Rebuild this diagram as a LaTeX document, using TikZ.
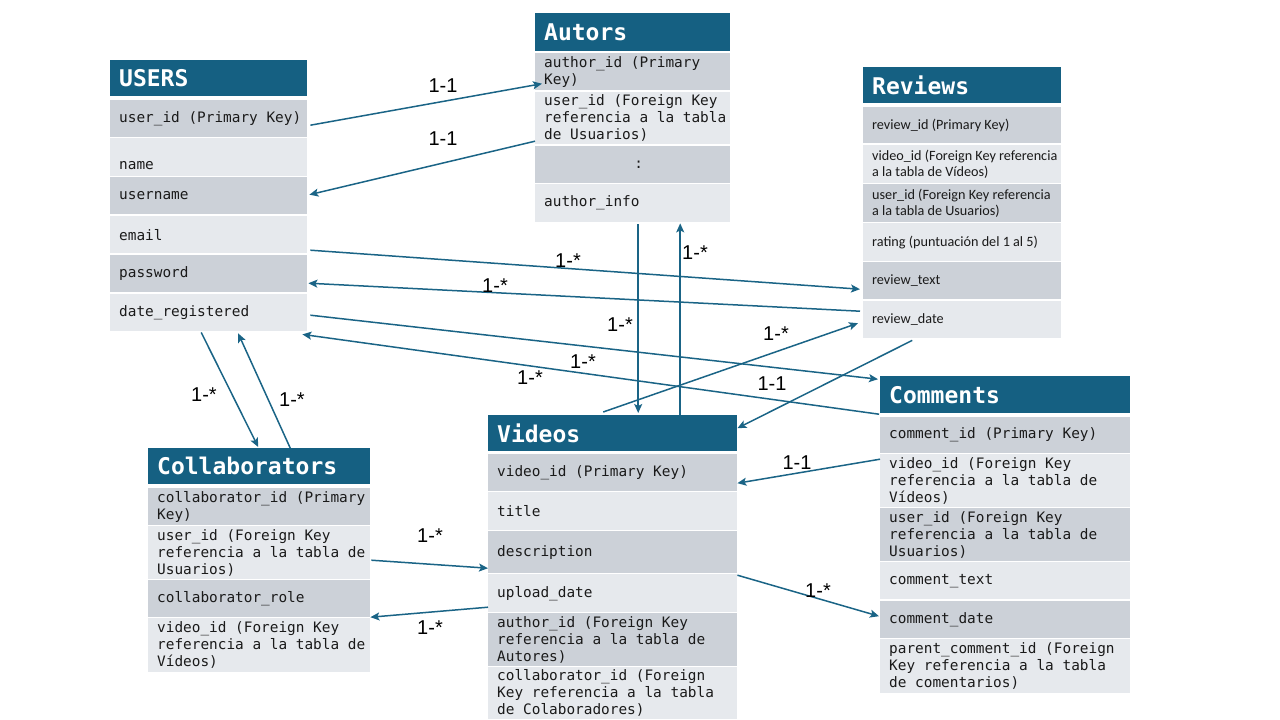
\documentclass[tikz,border=0pt]{standalone}
\usepackage{fontspec}
\setmainfont{Liberation Sans}
\newfontfamily\monof{DejaVu Sans Mono}
\newfontfamily\revf{Carlito}
\newfontfamily\lblf{Liberation Sans}
\usetikzlibrary{arrows.meta}
\definecolor{hdrc}{HTML}{156082}
\definecolor{rowd}{HTML}{CCD1D8}
\definecolor{rowl}{HTML}{E6E9ED}
\definecolor{linec}{HTML}{1A6486}
\definecolor{txtc}{HTML}{1A1A1A}
\tikzset{
  hdrbox/.style={fill=hdrc, draw=none, inner sep=0pt},
  rowbox/.style={draw=none, inner sep=0pt},
  hdrtext/.style={font=\monof\bfseries\fontsize{23}{27}\selectfont, text=white, inner sep=0pt},
  rowtext/.style={font=\monof\fontsize{14.4}{17}\selectfont, text=txtc, align=left, inner sep=0pt},
  revtext/.style={font=\revf\fontsize{14.2}{16}\selectfont, text=txtc, align=left, inner sep=0pt},
  conn/.style={draw=linec, line width=1.5pt, -{Stealth[length=9pt,width=8pt,inset=2pt]}},
  lbl/.style={font=\lblf\fontsize{20}{24}\selectfont, text=black, inner sep=0pt}
}
% name, x, y, w, h, title
\newcommand\etab[6]{%
  \node[hdrbox, minimum width=#4pt, minimum height=#5pt, anchor=north west] (#1) at (#2,#3) {};
  \node[hdrtext, anchor=west] (#1t) at ([xshift=9pt]#1.west) {#6};}
% [textstyle] name, x, y, w, h, fill, text
\newcommand\erow[8][rowtext]{%
  \node[rowbox, fill=#7, minimum width=#5pt, minimum height=#6pt, anchor=north west] (#2) at (#3,#4) {};
  \node[#1, anchor=west] (#2t) at ([xshift=9pt]#2.west) {#8};}
\begin{document}
\begin{tikzpicture}[x=1pt,y=-1pt]
\useasboundingbox (0,0) rectangle (1280,720);

% USERS
\etab{uh}{110}{60}{197}{36}{USERS}
\erow{u1}{110}{100}{197}{37}{rowd}{user\_id (Primary Key)}
\node[rowbox, fill=rowl, minimum width=197pt, minimum height=38pt, anchor=north west] (u2) at (110,138) {};
\node[rowtext, anchor=west] (u2t) at ([shift={(9,8)}]u2.west) {name};
\erow{u3}{110}{177}{197}{37}{rowd}{username}
\erow{u4}{110}{216}{197}{37}{rowl}{email}
\erow{u5}{110}{255}{197}{37}{rowd}{password}
\erow{u6}{110}{294}{197}{37}{rowl}{date\_registered}

% Autors
\etab{ah}{535}{13}{195}{38}{Autors}
\erow{a1}{535}{53}{195}{37}{rowd}{author\_id (Primary\\Key)}
\erow{a2}{535}{92}{195}{52}{rowl}{user\_id (Foreign Key\\referencia a la tabla\\de Usuarios)}
\node[rowbox, fill=rowd, minimum width=195pt, minimum height=37pt, anchor=north west] (a3) at (535,146) {};
\node[rowtext] (a3t) at ([xshift=6pt]a3.center) {:};
\erow{a4}{535}{184}{195}{38}{rowl}{author\_info}

% Reviews
\etab{rh}{863}{67}{198}{36}{Reviews}
\erow[revtext]{r1}{863}{107}{198}{36}{rowd}{review\_id (Primary Key)}
\erow[revtext]{r2}{863}{145}{198}{38}{rowl}{video\_id (Foreign Key referencia\\a la tabla de Vídeos)}
\erow[revtext]{r3}{863}{184}{198}{38}{rowd}{user\_id (Foreign Key referencia\\a la tabla de Usuarios)}
\erow[revtext]{r4}{863}{223}{198}{38}{rowl}{rating (puntuación del 1 al 5)}
\erow[revtext]{r5}{863}{262}{198}{37}{rowd}{review\_text}
\erow[revtext]{r6}{863}{301}{198}{37}{rowl}{review\_date}

% Comments
\etab{ch}{880}{376}{250}{37}{Comments}
\erow{c1}{880}{417}{250}{36}{rowd}{comment\_id (Primary Key)}
\erow{c2}{880}{454}{250}{53}{rowl}{video\_id (Foreign Key\\referencia a la tabla de\\Vídeos)}
\erow{c3}{880}{508}{250}{53}{rowd}{user\_id (Foreign Key\\referencia a la tabla de\\Usuarios)}
\erow{c4}{880}{562}{250}{37}{rowl}{comment\_text}
\erow{c5}{880}{601}{250}{37}{rowd}{comment\_date}
\erow{c6}{880}{639}{250}{54}{rowl}{parent\_comment\_id (Foreign\\Key referencia a la tabla\\de comentarios)}

% Videos
\etab{vh}{488}{415}{249}{36}{Videos}
\erow{v1}{488}{454}{249}{37}{rowd}{video\_id (Primary Key)}
\erow{v2}{488}{492}{249}{38}{rowl}{title}
\erow{v3}{488}{531}{249}{42}{rowd}{description}
\erow{v4}{488}{574}{249}{38}{rowl}{upload\_date}
\erow{v5}{488}{613}{249}{53}{rowd}{author\_id (Foreign Key\\referencia a la tabla de\\Autores)}
\erow{v6}{488}{667}{249}{52}{rowl}{collaborator\_id (Foreign\\Key referencia a la tabla\\de Colaboradores)}

% Collaborators
\etab{kh}{148}{448}{222}{36}{Collaborators}
\erow{k1}{148}{488}{222}{37}{rowd}{collaborator\_id (Primary\\Key)}
\erow{k2}{148}{526}{222}{53}{rowl}{user\_id (Foreign Key\\referencia a la tabla de\\Usuarios)}
\erow{k3}{148}{580}{222}{37}{rowd}{collaborator\_role}
\erow{k4}{148}{618}{222}{54}{rowl}{video\_id (Foreign Key\\referencia a la tabla de\\Vídeos)}

% Connectors
\draw[conn] ([shift={(3,6.5)}]u1.east) -- ([shift={(7,12)}]a1.west);
\draw[conn] ([shift={(0,23)}]a2.west) -- ([shift={(2,-1)}]u3.east);
\draw[conn] ([shift={(3,15.5)}]u4.east) -- ([shift={(-3,8.5)}]r5.west);
\draw[conn] ([shift={(-3,-8.5)}]r6.west) -- ([shift={(1,9.5)}]u5.east);
\draw[conn] ([shift={(3,2.5)}]u6.east) -- ([shift={(-2,-15.5)}]ch.west);
\draw[conn] ([shift={(-1,19.5)}]ch.west) -- ([shift={(-5,3)}]u6.south east);
\draw[conn] ([shift={(5.5,2)}]a4.south) -- ([shift={(25.5,-2)}]vh.north);
\draw[conn] ([shift={(67.5,0)}]vh.north) -- ([shift={(47.5,1)}]a4.south);
\draw[conn] ([shift={(-9.5,-3)}]vh.north) -- ([shift={(-5,3.5)}]r6.west);
\draw[conn] ([shift={(-50,2)}]r6.south) -- ([shift={(0,-5)}]vh.east);
\draw[conn] ([shift={(0,-21.5)}]c2.west) -- ([shift={(0,10.5)}]v1.east);
\draw[conn] ([shift={(0,-18)}]v4.east) -- ([shift={(-1,-3.5)}]c5.west);
\draw[conn] ([shift={(-7.5,1)}]u6.south) -- ([shift={(-1,-1)}]kh.north);
\draw[conn] ([shift={(31,0)}]kh.north) -- ([shift={(29.5,2)}]u6.south);
\draw[conn] ([shift={(1,7.5)}]k2.east) -- ([shift={(0,16)}]v3.west);
\draw[conn] ([shift={(0,14)}]v4.west) -- ([shift={(0,18.5)}]k3.east);

% Labels
\node[lbl] (l1) at (443,86) {1-1};
\node[lbl] (l2) at (443,139) {1-1};
\node[lbl] (l3) at (568,261) {1-*};
\node[lbl] (l4) at (495,286) {1-*};
\node[lbl] (l5) at (583,362) {1-*};
\node[lbl] (l6) at (530,378) {1-*};
\node[lbl] (l7) at (620,325) {1-*};
\node[lbl] (l8) at (695,253) {1-*};
\node[lbl] (l9) at (776,334) {1-*};
\node[lbl] (l10) at (772,384) {1-1};
\node[lbl] (l11) at (797,463) {1-1};
\node[lbl] (l12) at (818,591) {1-*};
\node[lbl] (l13) at (204,395) {1-*};
\node[lbl] (l14) at (292,400) {1-*};
\node[lbl] (l15) at (430,536) {1-*};
\node[lbl] (l16) at (430,628) {1-*};
\end{tikzpicture}
\end{document}
